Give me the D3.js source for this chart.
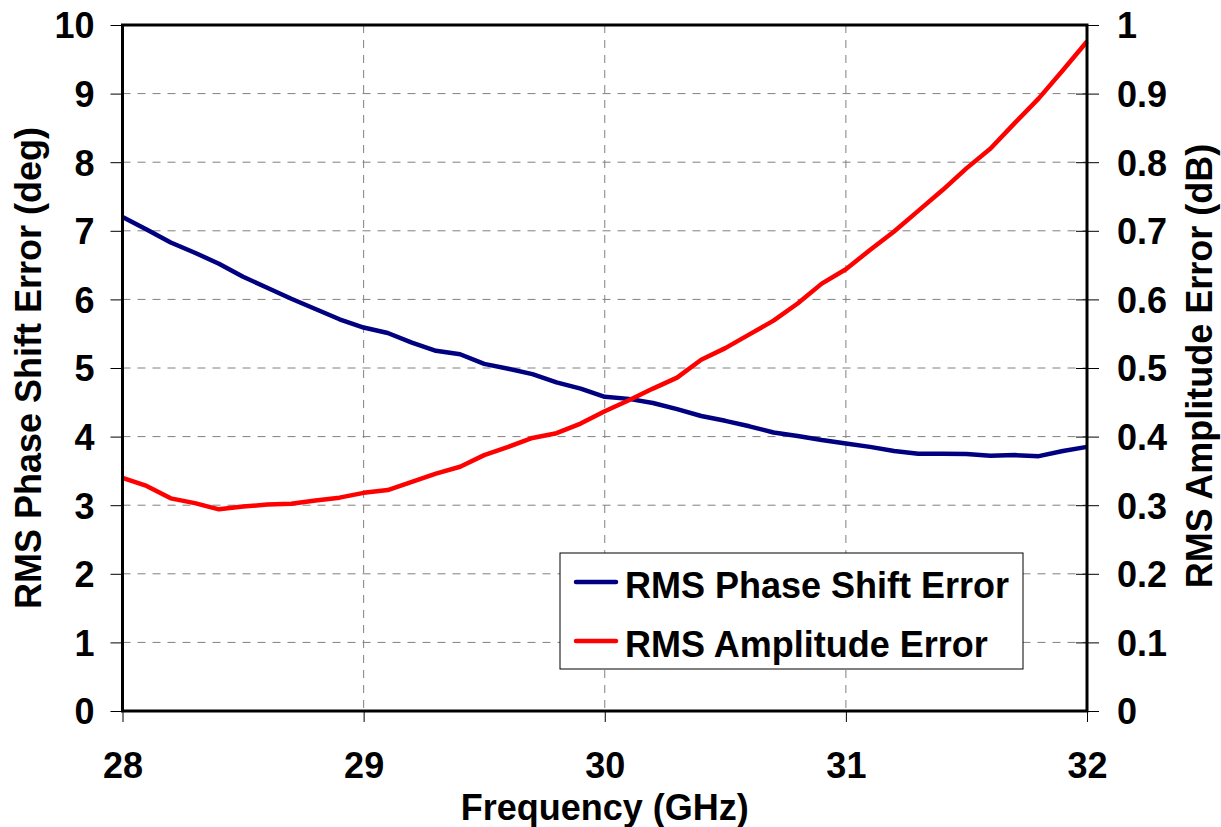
<!DOCTYPE html>
<html>
<head>
<meta charset="utf-8">
<script src="https://cdn.jsdelivr.net/npm/d3@7"></script>
<style>
  body { margin: 0; background: #fff; }
  svg text { font-family: "Liberation Sans", Arial, sans-serif; font-weight: bold; fill: #000; }
</style>
</head>
<body>
<svg id="chart" width="1221" height="827"></svg>
<script>
// Data
const freq = [28.0, 28.1, 28.2, 28.3, 28.4, 28.5, 28.6, 28.7, 28.8, 28.9,
  29.0, 29.1, 29.2, 29.3, 29.4, 29.5, 29.6, 29.7, 29.8, 29.9,
  30.0, 30.1, 30.2, 30.3, 30.4, 30.5, 30.6, 30.7, 30.8, 30.9,
  31.0, 31.1, 31.2, 31.3, 31.4, 31.5, 31.6, 31.7, 31.8, 31.9, 32.0];

const phaseErr = [7.20, 7.02, 6.83, 6.68, 6.52, 6.33, 6.17, 6.01, 5.86, 5.71,
  5.59, 5.51, 5.37, 5.25, 5.20, 5.06, 4.99, 4.91, 4.79, 4.70,
  4.58, 4.55, 4.49, 4.40, 4.30, 4.23, 4.15, 4.06, 4.01, 3.95,
  3.90, 3.85, 3.79, 3.75, 3.75, 3.745, 3.72, 3.73, 3.715, 3.79, 3.85];

const ampErr = [0.340, 0.328, 0.310, 0.303, 0.294, 0.298, 0.301, 0.302, 0.307, 0.311,
  0.318, 0.322, 0.334, 0.346, 0.356, 0.373, 0.385, 0.398, 0.405, 0.419,
  0.437, 0.453, 0.470, 0.486, 0.512, 0.529, 0.549, 0.569, 0.594, 0.623,
  0.644, 0.672, 0.699, 0.729, 0.759, 0.791, 0.820, 0.857, 0.893, 0.934, 0.976];

const xTicks = [28, 29, 30, 31, 32];
const leftTicks = [0, 1, 2, 3, 4, 5, 6, 7, 8, 9, 10];
const rightTicks = [0, 0.1, 0.2, 0.3, 0.4, 0.5, 0.6, 0.7, 0.8, 0.9, 1];

const seriesNames = ["RMS Phase Shift Error", "RMS Amplitude Error"];
const seriesColors = ["#000080", "#ff0000"];

const svg = d3.select("#chart");
const plotLeft = 122.5, plotRight = 1087, plotTop = 25, plotBottom = 711;
const fontSize = 36;

const x = d3.scaleLinear().domain([28, 32]).range([plotLeft, plotRight]);
const yL = d3.scaleLinear().domain([0, 10]).range([plotBottom, plotTop]);
const yR = d3.scaleLinear().domain([0, 1]).range([plotBottom, plotTop]);

// Grid lines
svg.append("g")
  .selectAll("line")
  .data(leftTicks.filter(d => d > 0 && d < 10))
  .join("line")
  .attr("x1", plotLeft).attr("x2", plotRight)
  .attr("y1", d => yL(d)).attr("y2", d => yL(d))
  .attr("stroke", "#808080").attr("stroke-width", 1)
  .attr("stroke-dasharray", "8,7");

svg.append("g")
  .selectAll("line")
  .data(xTicks.filter(d => d > 28 && d < 32))
  .join("line")
  .attr("x1", d => x(d)).attr("x2", d => x(d))
  .attr("y1", plotTop).attr("y2", plotBottom)
  .attr("stroke", "#808080").attr("stroke-width", 1)
  .attr("stroke-dasharray", "8,7");

// Axes
const gx = svg.append("g")
  .attr("transform", `translate(0,${plotBottom})`)
  .call(d3.axisBottom(x).tickValues(xTicks).tickSize(11).tickFormat(d3.format("d")));
gx.selectAll("text").attr("y", 67).attr("dy", null).style("font-size", fontSize + "px");

const gl = svg.append("g")
  .attr("transform", `translate(${plotLeft},0)`)
  .call(d3.axisLeft(yL).tickValues(leftTicks).tickSize(12).tickPadding(16).tickFormat(d3.format("d")));
gl.selectAll("text").attr("dy", "0.36em").style("font-size", fontSize + "px");

const gr = svg.append("g")
  .attr("transform", `translate(${plotRight},0)`)
  .call(d3.axisRight(yR).tickValues(rightTicks).tickSize(12).tickPadding(18).tickFormat(d => String(+d.toFixed(1))));
gr.selectAll("text").attr("dy", "0.36em").style("font-size", fontSize + "px");
gr.selectAll(".tick").append("line").attr("x2", -11).attr("stroke", "#000");

[gx, gl, gr].forEach(g => {
  g.select(".domain").remove();
  g.selectAll(".tick line").attr("stroke", "#000").attr("stroke-width", 1);
});

// Series lines
const phaseLine = d3.line().x((d, i) => x(freq[i])).y(d => yL(d));
const ampLine = d3.line().x((d, i) => x(freq[i])).y(d => yR(d));

svg.append("path").datum(phaseErr)
  .attr("d", phaseLine).attr("fill", "none")
  .attr("stroke", seriesColors[0]).attr("stroke-width", 4.5)
  .attr("stroke-linejoin", "round");

svg.append("path").datum(ampErr)
  .attr("d", ampLine).attr("fill", "none")
  .attr("stroke", seriesColors[1]).attr("stroke-width", 4.5)
  .attr("stroke-linejoin", "round");

// Plot frame
svg.append("rect")
  .attr("x", plotLeft).attr("y", plotTop)
  .attr("width", plotRight - plotLeft).attr("height", plotBottom - plotTop)
  .attr("fill", "none").attr("stroke", "#000").attr("stroke-width", 3);

// Axis titles
svg.append("text")
  .attr("x", (plotLeft + plotRight) / 2).attr("y", 820)
  .attr("text-anchor", "middle").style("font-size", fontSize + "px")
  .text("Frequency (GHz)");

svg.append("text")
  .attr("transform", `translate(41,${(plotTop + plotBottom) / 2}) rotate(-90)`)
  .attr("text-anchor", "middle").style("font-size", fontSize + "px")
  .text("RMS Phase Shift Error (deg)");

svg.append("text")
  .attr("transform", `translate(1212,366) rotate(-90)`)
  .attr("text-anchor", "middle").style("font-size", fontSize + "px")
  .text("RMS Amplitude Error (dB)");

// Legend
const lg = svg.append("g").attr("transform", "translate(560,553)");
lg.append("rect")
  .attr("width", 463).attr("height", 116)
  .attr("fill", "#fff").attr("stroke", "#000").attr("stroke-width", 1);

const items = lg.selectAll("g.item")
  .data(seriesNames)
  .join("g")
  .attr("class", "item")
  .attr("transform", (d, i) => `translate(0,${29 + i * 59})`);

items.append("line")
  .attr("x1", 16).attr("x2", 56)
  .attr("stroke", (d, i) => seriesColors[i]).attr("stroke-width", 4.5)
  .attr("stroke-linecap", "round");

items.append("text")
  .attr("x", 65).attr("y", 16)
  .style("font-size", fontSize + "px")
  .text(d => d);
</script>
</body>
</html>
